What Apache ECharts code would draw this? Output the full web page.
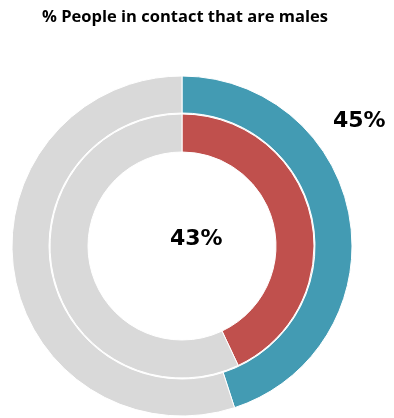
<!DOCTYPE html>
<html>
<head>
<meta charset="utf-8">
<script src="https://cdn.jsdelivr.net/npm/echarts@6/dist/echarts.min.js"></script>
<style>
  html, body { margin: 0; padding: 0; background: #fff; }
  #chart { width: 394px; height: 418px; }
</style>
</head>
<body>
<div id="chart"></div>
<script>
  // values
  const categories = ['Males', 'Others'];
  const outerValues = [45, 55];
  const innerValues = [43, 57];

  const myChart = echarts.init(document.getElementById('chart'));

  const colors = ['#439bb3', '#c0504d', '#d9d9d9'];
  const bigLabel = { fontFamily: 'DejaVu Sans', fontWeight: 'bold', fontSize: 22, fill: '#000' };

  myChart.setOption({
    animation: false,
    title: {
      text: '% People in contact that are males',
      left: 180,
      textAlign: 'center',
      top: 4,
      textStyle: { fontFamily: 'Open Sans', fontWeight: 'bold', fontSize: 16.5, color: '#000' }
    },
    graphic: [
      {
        type: 'text', left: 333, top: 110,
        style: Object.assign({ text: outerValues[0] + '%' }, bigLabel)
      },
      {
        type: 'text', left: 170, top: 228,
        style: Object.assign({ text: innerValues[0] + '%' }, bigLabel)
      }
    ],
    series: [
      {
        name: 'outer',
        type: 'pie',
        center: [182, 246],
        radius: [133, 170],
        startAngle: 90,
        label: { show: false },
        emphasis: { disabled: true },
        itemStyle: { borderColor: '#fff', borderWidth: 1 },
        data: categories.map((c, i) => ({
          name: c, value: outerValues[i],
          itemStyle: { color: i === 0 ? colors[0] : colors[2] }
        }))
      },
      {
        name: 'inner',
        type: 'pie',
        center: [182, 246],
        radius: [94, 132],
        startAngle: 90,
        label: { show: false },
        emphasis: { disabled: true },
        itemStyle: { borderColor: '#fff', borderWidth: 1 },
        data: categories.map((c, i) => ({
          name: c, value: innerValues[i],
          itemStyle: { color: i === 0 ? colors[1] : colors[2] }
        }))
      }
    ]
  });
</script>
</body>
</html>
